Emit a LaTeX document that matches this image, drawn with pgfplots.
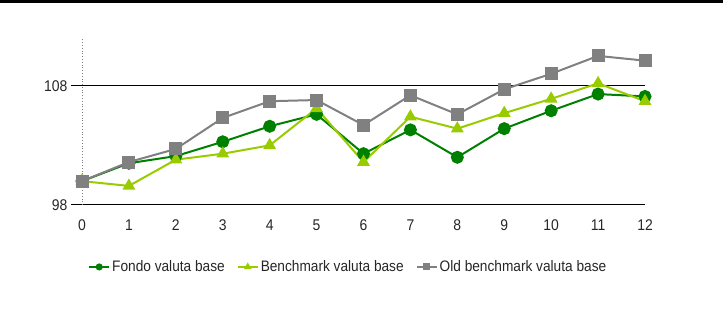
\documentclass[border=0pt]{standalone}
\usepackage{pgfplots}
\pgfplotsset{compat=1.18}
\usepackage{fontspec}
\setmainfont{Liberation Sans}[FakeStretch=0.9]
\definecolor{dg}{HTML}{008000}
\definecolor{lg}{HTML}{99CC00}
\definecolor{gr}{HTML}{808080}
\begin{document}
\begin{tikzpicture}
\useasboundingbox (0,0) rectangle (723bp,311bp);
\fill[black] (0,307.5bp) rectangle (723bp,311bp);
\begin{axis}[
  at={(82bp,106bp)}, anchor=south west,
  scale only axis, width=563bp, height=167bp,
  xmin=0, xmax=12, ymin=98, ymax=112,
  axis lines*=left,
  x axis line style={black, line width=1bp},
  y axis line style={gr, dotted, line width=0.8bp},
  xtick={0,...,12}, ytick={98,108},
  ymajorgrids, grid style={black, line width=1bp},
  major tick length=11bp, tick align=outside,
  xtick style={draw=none},
  ytick style={black, line width=1bp},
  /pgf/number format/assume math mode=true,
  tick label style={font=\fontsize{15.5bp}{18bp}\selectfont, text=black!85},
  legend style={at={(axis description cs:0.0107,-0.371)}, anchor=west, draw=none, fill=none,
    inner sep=0pt, font=\fontsize{15.2bp}{17bp}\selectfont, text=black!85,
    legend columns=3,
    /tikz/every even column/.append style={column sep=10bp}},
  legend cell align=left,
  legend image code/.code={\draw[mark repeat=2, mark phase=2, #1, mark size=2.5bp, line width=2bp]
     plot coordinates {(0bp,0bp) (10bp,0bp) (20bp,0bp)};},
  every axis plot/.append style={line width=2bp, mark size=5.5bp},
]
\addplot[dg, mark=*, mark options={solid, fill=dg}] coordinates {
(0,100.0) (1,101.5) (2,102.1) (3,103.3) (4,104.6) (5,105.6) (6,102.3)
(7,104.3) (8,102.0) (9,104.4) (10,105.9) (11,107.3) (12,107.1)};
\addlegendentry{Fondo valuta base}
\addplot[lg, mark=triangle*, mark options={solid, fill=lg}] coordinates {
(0,100.0) (1,99.6) (2,101.8) (3,102.3) (4,103.0) (5,106.1) (6,101.6)
(7,105.4) (8,104.4) (9,105.7) (10,106.9) (11,108.2) (12,106.7)};
\addlegendentry{Benchmark valuta base}
\addplot[gr, mark=square*, mark options={solid, fill=gr}] coordinates {
(0,100.0) (1,101.6) (2,102.7) (3,105.3) (4,106.7) (5,106.8) (6,104.7)
(7,107.2) (8,105.6) (9,107.7) (10,109.0) (11,110.5) (12,110.1)};
\addlegendentry{Old benchmark valuta base}
\end{axis}
\end{tikzpicture}
\end{document}
